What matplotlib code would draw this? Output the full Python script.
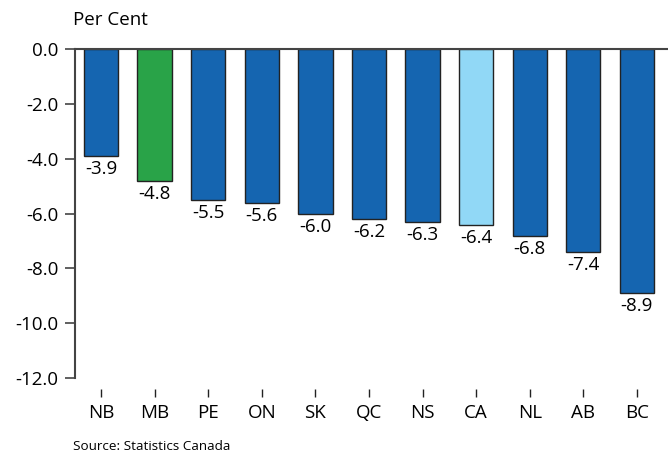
import numpy as np
import matplotlib.pyplot as plt

provinces = ["NB", "MB", "PE", "ON", "SK", "QC", "NS", "CA", "NL", "AB", "BC"]
change = [-3.9, -4.8, -5.5, -5.6, -6.0, -6.2, -6.3, -6.4, -6.8, -7.4, -8.9]
colours = ["#1565b0", "#29a348", "#1565b0", "#1565b0", "#1565b0", "#1565b0",
           "#1565b0", "#91d8f6", "#1565b0", "#1565b0", "#1565b0"]
yticks = [0.0, -2.0, -4.0, -6.0, -8.0, -10.0, -12.0]

plt.rcParams['font.family'] = ['Open Sans', 'DejaVu Sans']
fs = 13.5

fig = plt.figure(figsize=(6.68, 4.55), dpi=100)
ax = fig.add_axes([0.1123, 0.169, 0.8877, 0.723])

x = np.arange(len(provinces))
ax.bar(x, change, width=0.64, color=colours, edgecolor="#222222", linewidth=1.0, zorder=2)

for xi, v in zip(x, change):
    ax.annotate(f"{v:.1f}", (xi, v), xytext=(0, -3), textcoords="offset points",
                ha="center", va="top", fontsize=fs)

ax.axhline(0, color="#444444", linewidth=1.5, zorder=3, clip_on=False)

for s in ["top", "right"]:
    ax.spines[s].set_visible(False)
ax.spines["left"].set_color("#444444")
ax.spines["left"].set_linewidth(1.5)
# x ticks hang below the plot, detached from it
ax.spines["bottom"].set_position(("outward", 8))
ax.spines["bottom"].set_color("none")

ax.set_xlim(-0.485, 10.58)
ax.set_ylim(-12, 0)
ax.set_yticks(yticks)
ax.set_yticklabels([f"{t:.1f}" for t in yticks])
ax.set_xticks(x)
ax.set_xticklabels(provinces)

ax.tick_params(axis="y", direction="out", length=7, width=1.2, color="#444444", pad=5, labelsize=fs)
ax.tick_params(axis="x", direction="out", length=6, width=1.0, color="#222222", pad=5, labelsize=fs)

fig.text(73 / 668, 1 - 20 / 455, "Per Cent", fontsize=fs, va="center", ha="left")
fig.text(73 / 668, 1 - 447 / 455, "Source: Statistics Canada", fontsize=9.7, va="center", ha="left")

fig.savefig("out.png", dpi=100)
